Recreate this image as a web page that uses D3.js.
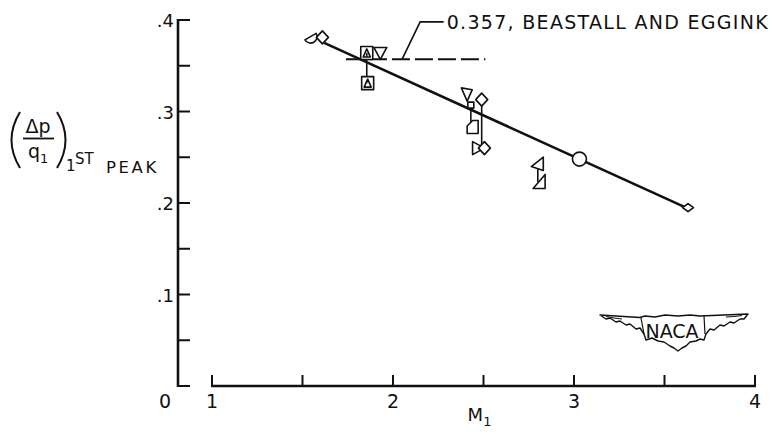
<!DOCTYPE html>
<html><head><meta charset="utf-8">
<script src="https://cdn.jsdelivr.net/npm/d3@7"></script>
<style>
html,body{margin:0;padding:0;background:#fff;}
svg{display:block;}
text{font-family:"DejaVu Sans",sans-serif;fill:#111;}
</style></head>
<body>
<svg id="chart" width="774" height="434"></svg>
<script>
// ---- data ----
const machNumbers    = [1.55, 1.61, 1.855, 1.93, 1.86, 2.41, 2.49, 2.43, 2.44, 2.47, 2.505, 2.80, 2.81, 3.03, 3.63];
const pressureRatios = [0.380, 0.381, 0.364, 0.364, 0.331, 0.318, 0.313, 0.307, 0.283, 0.260, 0.260, 0.242, 0.223, 0.248, 0.195];
const symbolTypes    = ["half","diamond","squareTri","triDown","squareTri","triFlag","diamond","smallSquare","flag","triRight","diamond","triLeft","triCorner","circle","smallDiamond"];
const connectFrom = [2, 7, 6, 11];
const connectTo   = [4, 8, 10, 12];
const fitMach  = [1.62, 3.64];
const fitRatio = [0.375, 0.193];
const beastallValue = 0.357;
const beastallMach  = [1.74, 2.51];
const leaderMach  = [2.05, 2.15, 2.28];
const leaderRatio = [0.357, 0.398, 0.398];
const beastallLabel = "0.357, BEASTALL AND EGGINK";
const xTicks = [1, 1.5, 2, 2.5, 3, 3.5, 4];
const xTickLabels = ["1", "", "2", "", "3", "", "4"];
const yTicks = [0, 0.05, 0.1, 0.15, 0.2, 0.25, 0.3, 0.35, 0.4];
const yTickLabels = ["", "", ".1", "", ".2", "", ".3", "", ".4"];
const originLabel = "0";

// ---- scales ----
const x = d3.scaleLinear().domain([1, 4]).range([212, 755]);
const y = d3.scaleLinear().domain([0, 0.4]).range([386, 20]);
const svg = d3.select("#chart");
const ink = "#111";

// y axis
const yAxisX = 178;
svg.append("line").attr("x1", yAxisX).attr("x2", yAxisX).attr("y1", y(0.4) - 1).attr("y2", y(0) + 1)
  .attr("stroke", ink).attr("stroke-width", 2.6);
svg.selectAll(".ytick").data(yTicks).enter().append("line")
  .attr("x1", yAxisX).attr("x2", yAxisX + 12).attr("y1", d => y(d)).attr("y2", d => y(d))
  .attr("stroke", ink).attr("stroke-width", 2);
svg.selectAll(".ylab").data(yTicks).enter().append("text")
  .attr("x", yAxisX - 4).attr("y", d => y(d) + 7).attr("text-anchor", "end")
  .attr("font-size", 18).text((d, i) => yTickLabels[i]);
svg.append("text").attr("x", 165).attr("y", 408).attr("text-anchor", "middle").attr("font-size", 19).text(originLabel);

// x axis
svg.append("line").attr("x1", x(1) - 1).attr("x2", x(4) + 1).attr("y1", y(0)).attr("y2", y(0))
  .attr("stroke", ink).attr("stroke-width", 2.6);
svg.selectAll(".xtick").data(xTicks).enter().append("line")
  .attr("x1", d => x(d)).attr("x2", d => x(d)).attr("y1", y(0)).attr("y2", y(0) - 11)
  .attr("stroke", ink).attr("stroke-width", 2);
svg.selectAll(".xlab").data(xTicks).enter().append("text")
  .attr("x", d => x(d)).attr("y", 408).attr("text-anchor", "middle")
  .attr("font-size", 19).text((d, i) => xTickLabels[i]);
const mLab = svg.append("text").attr("x", x(2.5) - 4).attr("y", 421).attr("text-anchor", "middle").attr("font-size", 18);
mLab.append("tspan").text("M");
mLab.append("tspan").attr("dy", 5).attr("font-size", 13).text("1");

// y axis title
const g = svg.append("g");
g.append("path").attr("d", "M20,112 Q3,140 20,168").attr("fill", "none").attr("stroke", ink).attr("stroke-width", 2);
g.append("path").attr("d", "M57,112 Q74,140 57,168").attr("fill", "none").attr("stroke", ink).attr("stroke-width", 2);
g.append("text").attr("x", 38).attr("y", 133).attr("text-anchor", "middle").attr("font-size", 19).text("Δp");
g.append("line").attr("x1", 23).attr("x2", 54).attr("y1", 138.5).attr("y2", 138.5).attr("stroke", ink).attr("stroke-width", 1.8);
const qt = g.append("text").attr("x", 28).attr("y", 158).attr("font-size", 19);
qt.append("tspan").text("q");
qt.append("tspan").attr("dy", 5).attr("font-size", 13).text("1");
g.append("text").attr("x", 66).attr("y", 171).attr("font-size", 15).text("1");
g.append("text").attr("x", 75).attr("y", 164).attr("font-size", 15).text("ST");
g.append("text").attr("x", 106).attr("y", 173).attr("font-size", 16.5).attr("letter-spacing", 2.6).text("PEAK");

// fit line
svg.append("line").attr("x1", x(fitMach[0])).attr("y1", y(fitRatio[0])).attr("x2", x(fitMach[1])).attr("y2", y(fitRatio[1]))
  .attr("stroke", ink).attr("stroke-width", 2.6);

// Beastall & Eggink dashed reference
svg.append("line").attr("x1", x(beastallMach[0])).attr("x2", x(beastallMach[1])).attr("y1", y(beastallValue)).attr("y2", y(beastallValue))
  .attr("stroke", ink).attr("stroke-width", 2).attr("stroke-dasharray", "18,5");
svg.append("path").attr("d", d3.line()(leaderMach.map((m, i) => [x(m), y(leaderRatio[i])])))
  .attr("fill", "none").attr("stroke", ink).attr("stroke-width", 1.6);
svg.append("text").attr("x", x(leaderMach[2]) + 3).attr("y", y(leaderRatio[2]) + 7).attr("font-size", 19)
  .attr("letter-spacing", 1.3).text(beastallLabel);

// connectors
connectFrom.forEach((a, i) => {
  const b = connectTo[i];
  svg.append("line").attr("x1", x(machNumbers[a])).attr("x2", x(machNumbers[a]))
    .attr("y1", y(pressureRatios[a])).attr("y2", y(pressureRatios[b]))
    .attr("stroke", ink).attr("stroke-width", 1.6);
});

// symbols
const shapes = {
  half: "M-6.5,-2 L6.5,-2 A6.5,6.5 0 0 1 -6.5,-2 Z",
  diamond: "M0,-6.5 L6,0 L0,6.5 L-6,0 Z",
  smallDiamond: "M0,-4 L5.5,0 L0,4 L-5.5,0 Z",
  squareTri: "M-6,-6.5 L6,-6.5 L6,6.5 L-6,6.5 Z M-3.5,4 L3.5,4 L0,-4 Z",
  triDown: "M-6.5,-5.5 L6.5,-5.5 L0,6.5 Z",
  triFlag: "M-7,-6 L4,-6 L1,6 Z",
  smallSquare: "M-3,-3 L3,-3 L3,3 L-3,3 Z",
  flag: "M-5.5,6.5 L5.5,6.5 L5.5,-6.5 L0,-6.5 L-5.5,-1 Z",
  triRight: "M-5.5,-6.5 L6.5,0 L-5.5,6.5 Z",
  triLeft: "M5.5,-7.5 L5.5,6 L-6.5,2 Z",
  triCorner: "M5.5,-7.5 L5.5,6.5 L-6.5,6.5 Z",
  circle: "M-7,0 A7,7 0 1 0 7,0 A7,7 0 1 0 -7,0 Z"
};
const rot = {half: -30, triFlag: 10};
svg.selectAll(".pt").data(machNumbers).enter().append("path")
  .attr("transform", (d, i) => `translate(${x(d)},${y(pressureRatios[i])}) rotate(${rot[symbolTypes[i]] || 0})`)
  .attr("d", (d, i) => shapes[symbolTypes[i]])
  .attr("fill", "#fff").attr("stroke", ink).attr("stroke-width", 1.6).attr("stroke-linejoin", "round");

// NACA logo (decoration)
const logo = svg.append("g").attr("transform", "translate(600,290)");
logo.append("path").attr("d",
  "M0,25 L40,27.5 L45,26 L55,27 L65,25 L78,26 L90,25 L100,26 L148,24" +
  " L144,29 L140,29 L134,33 L130,32 L124,36 L120,35 L114,40 L110,39 L106,44 L104,50 L100,49 L96,51 L90,52 L86,56 L82,58 L78,61" +
  " L74,58 L70,56 L64,52 L58,51 L52,48 L46,50 L44,44 L40,38 L36,39 L30,34 L26,35 L20,31 L16,32 L10,28 L6,29 Z")
  .attr("fill", "#fff").attr("stroke", ink).attr("stroke-width", 1.4).attr("stroke-linejoin", "round");
logo.append("path").attr("d", "M6,26.5 L14,28 L22,29 M126,27 L134,26.5 L142,25.5")
  .attr("fill", "none").attr("stroke", ink).attr("stroke-width", 1);
logo.append("path").attr("d", "M41,28 L44,44 M104,26 L105,44")
  .attr("fill", "none").attr("stroke", ink).attr("stroke-width", 1.2);
logo.append("text").attr("x", 72).attr("y", 48).attr("text-anchor", "middle").attr("font-size", 19).text("NACA");
</script>
</body></html>
